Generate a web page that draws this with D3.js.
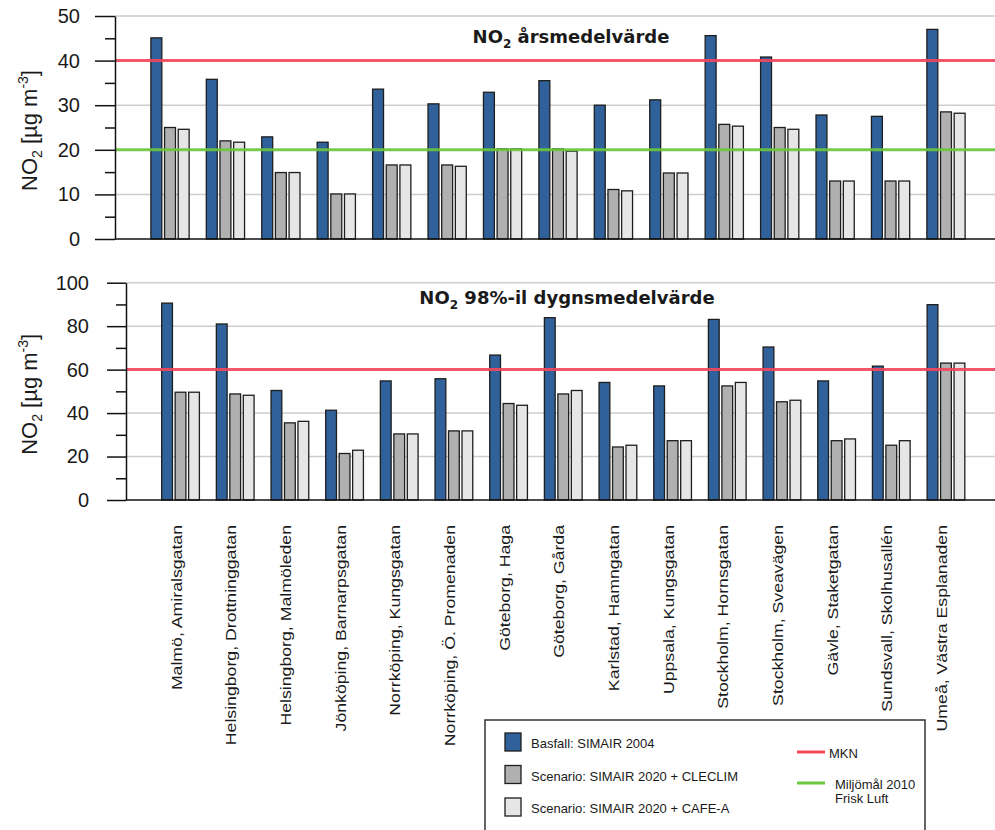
<!DOCTYPE html>
<html>
<head>
<meta charset="utf-8">
<script src="https://cdn.jsdelivr.net/npm/d3@7"></script>
<style>
  body { margin: 0; background: #fff; }
  text { font-family: "Liberation Sans", Arial, sans-serif; fill: #1a1a1a; }
  .title { font-family: "DejaVu Sans", Verdana, sans-serif; font-weight: bold; }
</style>
</head>
<body>
<svg width="995" height="830"></svg>
<script>
var sites = ['Malmö, Amiralsgatan', 'Helsingborg, Drottninggatan', 'Helsingborg, Malmöleden',
  'Jönköping, Barnarpsgatan', 'Norrköping, Kungsgatan', 'Norrköping, Ö. Promenaden',
  'Göteborg, Haga', 'Göteborg, Gårda', 'Karlstad, Hamngatan', 'Uppsala, Kungsgatan',
  'Stockholm, Hornsgatan', 'Stockholm, Sveavägen', 'Gävle, Staketgatan',
  'Sundsvall, Skolhusallén', 'Umeå, Västra Esplanaden'];

var seriesNames = ['Basfall: SIMAIR 2004', 'Scenario: SIMAIR 2020 + CLECLIM', 'Scenario: SIMAIR 2020 + CAFE-A'];
var seriesColors = ['#30619a', '#b0b0b0', '#e6e6e6'];

// årsmedelvärde
var annualBase    = [45.1, 35.8, 22.9, 21.7, 33.6, 30.3, 32.9, 35.5, 30.0, 31.2, 45.6, 40.8, 27.8, 27.5, 47.0];
var annualCleclim = [25.0, 22.0, 14.9, 10.1, 16.6, 16.6, 20.2, 20.2, 11.1, 14.8, 25.7, 25.0, 13.0, 13.0, 28.5];
var annualCafe    = [24.6, 21.7, 14.9, 10.1, 16.6, 16.3, 20.2, 19.7, 10.8, 14.8, 25.3, 24.6, 13.0, 13.0, 28.2];

// 98%-il dygnsmedelvärde
var dailyBase    = [90.6, 81.0, 50.4, 41.3, 54.8, 55.8, 66.7, 83.9, 54.1, 52.5, 83.1, 70.4, 54.8, 61.6, 89.9];
var dailyCleclim = [49.6, 48.8, 35.5, 21.4, 30.4, 31.8, 44.4, 48.8, 24.4, 27.3, 52.5, 45.2, 27.3, 25.2, 63.0];
var dailyCafe    = [49.6, 48.2, 36.2, 22.9, 30.4, 31.8, 43.6, 50.4, 25.2, 27.3, 54.1, 45.9, 28.1, 27.3, 63.0];

var annualTicks = [0, 10, 20, 30, 40, 50];
var annualMinor = [5, 15, 25, 35, 45];
var dailyTicks = [0, 20, 40, 60, 80, 100];
var dailyMinor = [10, 30, 50, 70, 90];

var RED = '#f5475e', GREEN = '#6cc83c';
var annualLimits = [{value: 40, color: RED}, {value: 20, color: GREEN}];
var dailyLimits = [{value: 60, color: RED}];

var legendLines = [
  {label: ['MKN'], color: RED},
  {label: ['Miljömål 2010', 'Frisk Luft'], color: GREEN}
];

var svg = d3.select('svg');
var W = 995;

function toRows(a, b, c) {
  return sites.map(function(s, i) {
    return {site: s, values: [a[i], b[i], c[i]]};
  });
}

function drawPanel(cfg) {
  var g = svg.append('g');

  var y = d3.scaleLinear().domain(cfg.domain).range(cfg.yRange);
  var x0 = d3.scaleBand().domain(sites).range(cfg.xRange)
      .paddingInner(0.31).paddingOuter(0.155);
  var x1 = d3.scaleBand().domain([0, 1, 2]).range([0, x0.bandwidth()]).paddingInner(0.2);

  // gridlines
  g.selectAll('.grid')
    .data(cfg.ticks.filter(function(d){ return d > 0; }))
    .enter().append('line')
    .attr('x1', cfg.axisX).attr('x2', W)
    .attr('y1', function(d){ return y(d); })
    .attr('y2', function(d){ return y(d); })
    .attr('stroke', '#cdcdcd').attr('stroke-width', 1.5);

  // bars
  var groups = g.selectAll('.site')
    .data(cfg.rows)
    .enter().append('g')
    .attr('transform', function(d){ return 'translate(' + x0(d.site) + ',0)'; });

  groups.selectAll('rect')
    .data(function(d){ return d.values; })
    .enter().append('rect')
    .attr('x', function(d, i){ return x1(i); })
    .attr('width', x1.bandwidth())
    .attr('y', function(d){ return y(d); })
    .attr('height', function(d){ return y(0) - y(d); })
    .attr('fill', function(d, i){ return seriesColors[i]; })
    .attr('stroke', '#1e1e1e').attr('stroke-width', 1.3);

  // limit lines
  g.selectAll('.limit')
    .data(cfg.limits)
    .enter().append('line')
    .attr('x1', cfg.axisX).attr('x2', W)
    .attr('y1', function(d){ return y(d.value); })
    .attr('y2', function(d){ return y(d.value); })
    .attr('stroke', function(d){ return d.color; })
    .attr('stroke-width', 3).attr('opacity', 0.9);

  // baseline
  g.append('line')
    .attr('x1', cfg.axisX).attr('x2', W)
    .attr('y1', y(0)).attr('y2', y(0))
    .attr('stroke', '#111').attr('stroke-width', 1.5);

  // y axis
  var ax = g.append('g')
    .attr('transform', 'translate(' + cfg.axisX + ',0)')
    .call(d3.axisLeft(y).tickValues(cfg.ticks).tickSize(cfg.tickLen)
      .tickSizeOuter(0).tickPadding(cfg.pad));
  ax.select('.domain').attr('stroke', '#111').attr('stroke-width', 1.5);
  ax.selectAll('.tick line').attr('stroke', '#111').attr('stroke-width', 1.5);
  ax.selectAll('text').style('font-size', '20px').attr('fill', '#1a1a2e');

  var axm = g.append('g')
    .attr('transform', 'translate(' + cfg.axisX + ',0)')
    .call(d3.axisLeft(y).tickValues(cfg.minor).tickSize(10).tickFormat(''));
  axm.select('.domain').remove();
  axm.selectAll('.tick line').attr('stroke', '#111').attr('stroke-width', 1.5);

  // title
  var t = g.append('text').attr('class', 'title')
    .attr('x', cfg.titleX).attr('y', cfg.titleY)
    .attr('text-anchor', 'middle').style('font-size', '18px');
  t.append('tspan').text('NO');
  t.append('tspan').text('2').attr('dy', 5).style('font-size', '12px');
  t.append('tspan').text(cfg.title).attr('dy', -5);

  // y title
  var cy = (cfg.yRange[0] + cfg.yRange[1]) / 2 + 3;
  var yt = g.append('text')
    .attr('transform', 'translate(37,' + cy + ') rotate(-90)')
    .attr('text-anchor', 'middle').style('font-size', '22px');
  yt.append('tspan').text('NO');
  yt.append('tspan').text('2').attr('dy', 5).style('font-size', '14px');
  yt.append('tspan').text(' [µg m').attr('dy', -5);
  yt.append('tspan').text('-3').attr('dy', -9).style('font-size', '14px');
  yt.append('tspan').text(']').attr('dy', 9);

  return x0;
}

drawPanel({
  rows: toRows(annualBase, annualCleclim, annualCafe),
  domain: [0, 50], yRange: [239, 16], xRange: [142.3, 973.7],
  axisX: 115, tickLen: 20, pad: 15,
  ticks: annualTicks, minor: annualMinor, limits: annualLimits,
  title: ' årsmedelvärde', titleX: 571, titleY: 43
});

var xBottom = drawPanel({
  rows: toRows(dailyBase, dailyCleclim, dailyCafe),
  domain: [0, 100], yRange: [500, 282.7], xRange: [153.2, 973.3],
  axisX: 126, tickLen: 19, pad: 18,
  ticks: dailyTicks, minor: dailyMinor, limits: dailyLimits,
  title: ' 98%-il dygnsmedelvärde', titleX: 567, titleY: 304
});

// site labels
var xl = svg.append('g')
  .attr('transform', 'translate(0,525)')
  .call(d3.axisBottom(xBottom).tickSize(0));
xl.select('.domain').remove();
xl.selectAll('text')
  .attr('x', 0).attr('y', 0).attr('dy', 1)
  .attr('text-anchor', 'end')
  .attr('transform', 'rotate(-90) scale(1.18,1)')
  .style('font-size', '15px').attr('fill', '#1a1a1a');

// legend
var lg = svg.append('g');
lg.append('rect')
  .attr('x', 485).attr('y', 720).attr('width', 440).attr('height', 130)
  .attr('fill', '#fff').attr('stroke', '#333').attr('stroke-width', 1.5);

var items = lg.selectAll('.item')
  .data(seriesNames)
  .enter().append('g')
  .attr('transform', function(d, i){ return 'translate(505,' + (733 + i * 32.5) + ')'; });
items.append('rect')
  .attr('width', 16).attr('height', 18)
  .attr('fill', function(d, i){ return seriesColors[i]; })
  .attr('stroke', '#1e1e1e').attr('stroke-width', 1.3);
items.append('text')
  .attr('x', 26).attr('y', 15)
  .style('font-size', '13px')
  .text(function(d){ return d; });

var li = lg.selectAll('.lineitem')
  .data(legendLines)
  .enter().append('g')
  .attr('transform', function(d, i){ return 'translate(797,' + (752 + i * 31) + ')'; });
li.append('line')
  .attr('x1', 0).attr('x2', 28)
  .attr('stroke', function(d){ return d.color; }).attr('stroke-width', 3);
li.each(function(d, i) {
  var txt = d3.select(this).append('text')
    .attr('x', i == 0 ? 32 : 38).attr('y', 6)
    .style('font-size', '13px');
  d.label.forEach(function(s, k) {
    txt.append('tspan').attr('x', i == 0 ? 32 : 38).attr('dy', k == 0 ? 0 : 14).text(s);
  });
});
</script>
</body>
</html>
